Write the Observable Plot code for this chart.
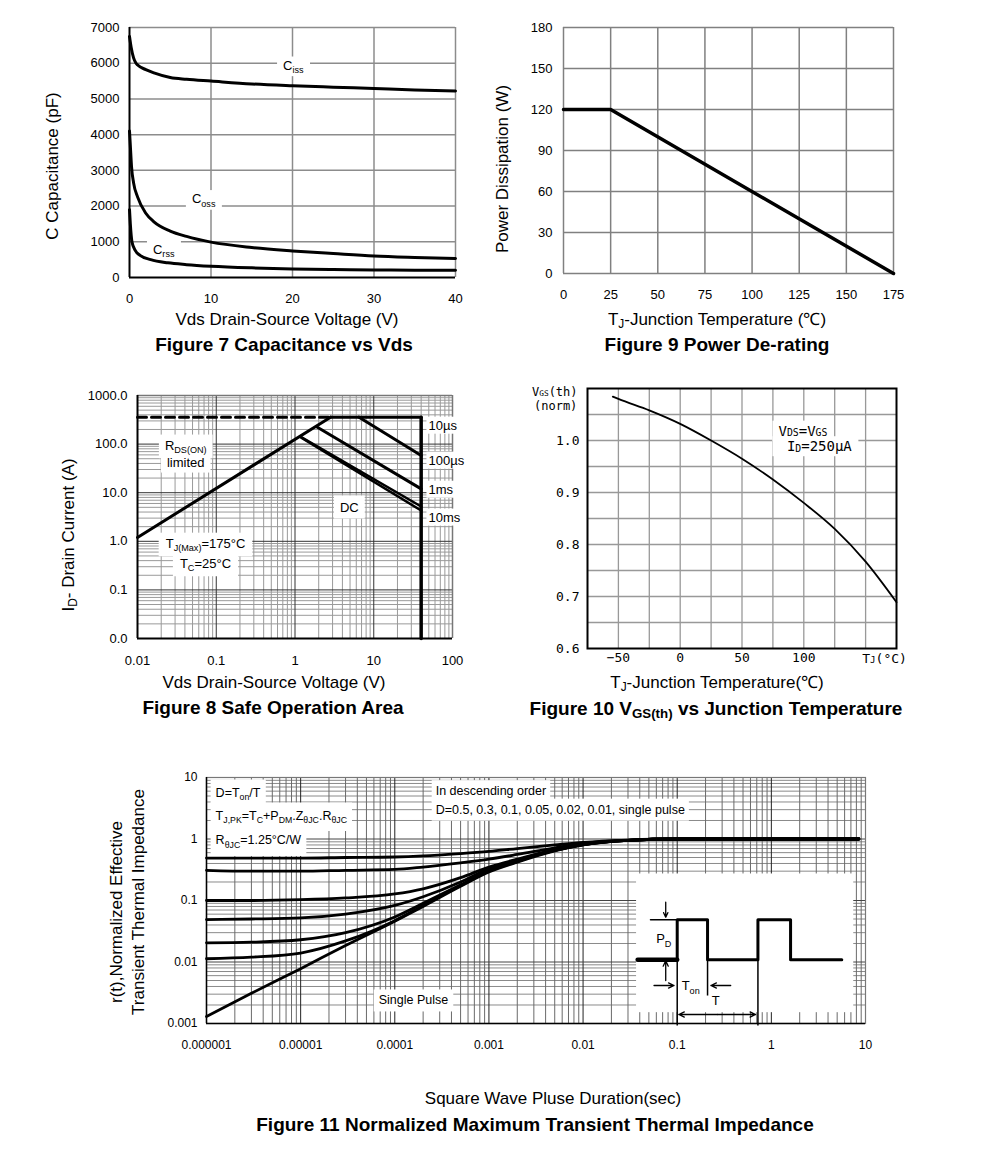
<!DOCTYPE html>
<html><head><meta charset="utf-8">
<script src="https://cdn.jsdelivr.net/npm/d3@7"></script>
<script src="https://cdn.jsdelivr.net/npm/@observablehq/plot@0.6"></script>
<style>
body{margin:0;background:#fff;width:991px;height:1160px;position:relative;overflow:hidden;font-family:"Liberation Sans",Arial,sans-serif;color:#000;}
.holder{position:absolute;}
.t{position:absolute;white-space:nowrap;line-height:1;z-index:3;}
.xt{font-size:17px;transform:translate(-50%,-50%);}
.cap{font-size:19px;font-weight:bold;transform:translate(-50%,-50%);}
.yt{font-size:17px;transform:translate(-50%,-50%) rotate(-90deg);}
.mono{font-family:"DejaVu Sans Mono",monospace;font-size:12px;}
sub{font-size:70%;vertical-align:-0.3em;line-height:0;}
.mono sub{vertical-align:0;font-size:65%;}
</style></head><body>
<div class="t yt" style="left:52px;top:166px">C Capacitance (pF)</div>
<div class="t xt" style="left:287px;top:319px">Vds Drain-Source Voltage (V)</div>
<div class="t cap" style="left:284px;top:344px">Figure 7 Capacitance vs Vds</div>
<div class="t yt" style="left:502px;top:169px">Power Dissipation (W)</div>
<div class="t xt" style="left:717px;top:319px">T<sub>J</sub>-Junction Temperature (℃)</div>
<div class="t cap" style="left:717px;top:344px">Figure 9 Power De-rating</div>
<div class="t yt" style="left:68px;top:535px">I<sub>D</sub>- Drain Current (A)</div>
<div class="t xt" style="left:274px;top:682px">Vds Drain-Source Voltage (V)</div>
<div class="t cap" style="left:273px;top:707px">Figure 8 Safe Operation Area</div>
<div class="t mono" style="left:532px;top:386px">V<sub>GS</sub>(th)</div>
<div class="t mono" style="left:534px;top:400px">(norm)</div>
<div class="t xt" style="left:717px;top:682px">T<sub>J</sub>-Junction Temperature(℃)</div>
<div class="t cap" style="left:716px;top:708px">Figure 10 V<sub>GS(th)</sub> vs Junction Temperature</div>
<div class="t yt" style="left:116px;top:912px">r(t),Normalized Effective</div>
<div class="t yt" style="left:138px;top:902px">Transient Thermal Impedance</div>
<div class="t xt" style="left:553px;top:1098px">Square Wave Pluse Duration(sec)</div>
<div class="t cap" style="left:535px;top:1124px">Figure 11 Normalized Maximum Transient Thermal Impedance</div>
<script>
// ================= DATA =================
// Figure 7: capacitance vs Vds
const vCiss = [0,0.2,0.5,0.8,1,2,3,5,7,10,15,20,25,30,35,40];
const ciss  = [6750,6450,6150,6000,5950,5820,5730,5600,5550,5500,5420,5370,5330,5290,5250,5220];
const vCoss = [0,0.1,0.25,0.5,1,2,3,5,7,10,15,20,25,30,35,40];
const coss  = [4100,3700,3100,2650,2250,1800,1560,1300,1150,990,840,745,670,600,560,530];
const vCrss = [0,0.1,0.3,0.7,1.3,2.6,4.7,7,10,15,20,25,30,35,40];
const crss  = [1900,1500,1000,760,620,500,410,360,316,270,240,225,210,205,200];
const capTicksX = [0,10,20,30,40];
const capTicksY = [0,1000,2000,3000,4000,5000,6000,7000];
const capNames = ["C_{iss}","C_{oss}","C_{rss}"];
const capNameV = [20.1,9.1,4.2];
const capNameC = [5940,2200,780];

// Figure 9: power de-rating
const tj9 = [0,25,175];
const pd9 = [120,120,0];
const tj9Ticks = [0,25,50,75,100,125,150,175];
const pd9Ticks = [0,30,60,90,120,150,180];

// Figure 8: safe operating area
const soaTicksX = [0.01,0.1,1,10,100];
const soaTickLabelsX = ["0.01","0.1","1","10","100"];
const soaTicksY = [0.01,0.1,1,10,100,1000];
const soaTickLabelsY = ["0.0","0.1","1.0","10.0","100.0","1000.0"];
const soaLimitV = [0.01,2.83],  soaLimitI = [1.2,358];
const soaDashV  = [0.01,2.83],  soaDashI  = [358,358];
const soaTopV   = [2.83,40],    soaTopI   = [358,358];
const soa10usV  = [6.5,40],     soa10usI  = [358,58];
const soa100usV = [1.9,40],     soa100usI = [225,12];
const soa1msV   = [1.17,40],    soa1msI   = [143,5.2];
const soa10msV  = [1.2,40],     soa10msI  = [136,4.3];
const soaDcV    = [40,40],      soaDcI    = [358,0.01];
const soaNames  = ["10µs","100µs","1ms","10ms"];
const soaNameV  = [49.5,49.5,49.5,49.5];
const soaNameI  = [241,46,11.6,3.1];
const soaNotes  = ["DC","R_{DS(ON)}","limited","T_{J(Max)}=175°C","T_{C}=25°C"];
const soaNoteV  = [4.9,0.041,0.041,0.073,0.073];
const soaNoteI  = [5.0,94,42,0.9,0.35];

// Figure 10: VGS(th) vs TJ
const tj10  = [-54.5,-50,-25,0,25,50,75,100,125,150,175];
const vth10 = [1.0845,1.080,1.058,1.032,1.000,0.965,0.925,0.880,0.830,0.767,0.689];
const tj10Ticks = [-50,0,50,100];
const vth10Ticks = [0.6,0.7,0.8,0.9,1.0];
const tj10Grid = [-50,-25,0,25,50,75,100,125,150];
const vth10Grid = [0.65,0.7,0.75,0.8,0.85,0.9,0.95,1.0,1.05];
const vthNote = ["V_{DS}=V_{GS}"," I_{D}=250µA"];
const vthNoteT = [79.5,79.5];
const vthNoteV = [1.018,0.988];

// Figure 11: transient thermal impedance
const tPulse = [1e-6,3e-6,1e-5,3e-5,1e-4,2e-4,5e-4,1e-3,2e-3,5e-3,1e-2,3e-2,1e-1,1,8.5];
const zD05   = [0.49,0.49,0.49,0.50,0.51,0.53,0.58,0.63,0.70,0.80,0.88,0.96,1.0,1.0,1.0];
const zD03   = [0.31,0.30,0.30,0.31,0.32,0.35,0.41,0.47,0.56,0.72,0.85,0.95,1.0,1.0,1.0];
const zD01   = [0.100,0.100,0.103,0.110,0.128,0.155,0.235,0.35,0.47,0.67,0.82,0.95,1.0,1.0,1.0];
const zD005  = [0.049,0.050,0.052,0.060,0.083,0.115,0.20,0.33,0.45,0.66,0.81,0.95,1.0,1.0,1.0];
const zD002  = [0.0205,0.021,0.023,0.030,0.054,0.090,0.18,0.31,0.44,0.65,0.81,0.95,1.0,1.0,1.0];
const zD001  = [0.0113,0.012,0.014,0.022,0.047,0.083,0.175,0.30,0.43,0.65,0.80,0.95,1.0,1.0,1.0];
const zSingle= [0.0013,0.0031,0.0078,0.0185,0.046,0.080,0.17,0.29,0.42,0.64,0.80,0.95,1.0,1.0,1.0];
const thTicksX = [1e-6,1e-5,1e-4,1e-3,1e-2,1e-1,1,10];
const thTickLabelsX = ["0.000001","0.00001","0.0001","0.001","0.01","0.1","1","10"];
const thTicksY = [0.001,0.01,0.1,1,10];
const thTickLabelsY = ["0.001","0.01","0.1","1","10"];
const thNotes = ["D=T_{on}/T","T_{J,PK}=T_{C}+P_{DM}.Z_{θJC}.R_{θJC}","R_{θJC}=1.25°C/W","In descending order","D=0.5, 0.3, 0.1, 0.05, 0.02, 0.01, single pulse"];
const thNoteT = [1.25e-6,1.25e-6,1.25e-6,2.72e-4,2.72e-4];
const thNoteZ = [5.7,2.41,0.946,6.0,3.0];
// inset schematic (in the chart's own units)
const insetT = [0.037,7.5], insetZ = [0.0015,0.27];
const waveT = [0.1,0.1,0.21,0.21,0.72,0.72,1.6,1.6,5.6];
const waveZ = [0.0109,0.0485,0.0485,0.0109,0.0109,0.0485,0.0485,0.0109,0.0109];
const waveLeadT = [0.038,0.1], waveLeadZ = [0.0109,0.0109];
const pdTickT = [0.052,0.1], pdTickZ = [0.0485,0.0485];
const guideT = [0.1,0.72,0.21], guideTop = [0.0109,0.0109,0.0109], guideBot = [0.00093,0.00093,0.00285];
const arrowX1 = [0.0755,0.0755,0.0567,0.37,0.266,0.266];
const arrowY1 = [0.094,0.005,0.00415,0.00415,0.0014,0.0014];
const arrowX2 = [0.0755,0.0755,0.0925,0.228,0.104,0.68];
const arrowY2 = [0.0535,0.0105,0.00415,0.00415,0.0014,0.0014];
const insetNames = ["P_{D}","T_{on}","T"];
const insetNameT = [0.072,0.139,0.257];
const insetNameZ = [0.0238,0.0041,0.0023];

// ================= HELPERS =================
const NS = "http://www.w3.org/2000/svg";
const lookup = (ticks, labels) => d => { const k = ticks.findIndex(t => Math.abs(Math.log10(t) - Math.log10(d)) < 1e-6); return k < 0 ? "" : labels[k]; };
function subify(t, shift){
  const s = t.textContent;
  if (!s.includes("_{")) return;
  const fs = parseFloat(getComputedStyle(t).fontSize) || 12;
  while (t.firstChild) t.removeChild(t.firstChild);
  const re = /_\{([^}]*)\}/g; let last = 0, m, shifted = false;
  const add = (txt, sub) => {
    const n = document.createElementNS(NS, "tspan");
    n.textContent = txt;
    if (sub) { n.setAttribute("font-size", (0.7*fs).toFixed(2)); if (!shifted) { n.setAttribute("dy", (shift*fs).toFixed(2)); shifted = true; } }
    else if (shifted) { n.setAttribute("dy", (-shift*fs).toFixed(2)); shifted = false; }
    t.appendChild(n);
  };
  while ((m = re.exec(s))) { if (m.index > last) add(s.slice(last, m.index), false); add(m[1], true); last = re.lastIndex; }
  if (last < s.length) add(s.slice(last), false);
}
function place(svg, left, top, boxMap, shift = 0.28){
  const d = document.createElement("div");
  d.className = "holder"; d.style.left = left + "px"; d.style.top = top + "px";
  d.appendChild(svg); document.body.appendChild(d);
  const texts = [...svg.querySelectorAll("text")];
  const boxed = texts.filter(t => boxMap && boxMap.has(t.textContent)).map(t => [t, boxMap.get(t.textContent)]);
  texts.forEach(t => subify(t, shift));
  boxed.forEach(([t, [px, py]]) => {
    const b = t.getBBox();
    const r = document.createElementNS(NS, "rect");
    r.setAttribute("x", b.x - px); r.setAttribute("y", b.y - py);
    r.setAttribute("width", b.width + 2*px); r.setAttribute("height", b.height + 2*py);
    r.setAttribute("fill", "white"); r.setAttribute("stroke", "none");
    const tr = t.getAttribute("transform"); if (tr) r.setAttribute("transform", tr);
    t.parentNode.insertBefore(r, t.parentNode.firstChild);
  });
}
const baseStyle = (ff, fs) => ({background:"transparent", color:"#000", fontFamily:ff, fontSize:fs, overflow:"visible"});
const SANS = "Liberation Sans, Arial, sans-serif";

// ================= FIGURE 7 =================
{
  const svg = Plot.plot({
    width:430, height:300, marginLeft:89, marginRight:15, marginTop:12, marginBottom:38,
    style: baseStyle(SANS, "13px"),
    x:{domain:[0,40], ticks:capTicksX, tickFormat:d3.format("d"), tickSize:0, tickPadding:16, label:null},
    y:{domain:[0,7000], ticks:capTicksY, tickFormat:d3.format("d"), tickSize:0, tickPadding:10, label:null},
    marks:[
      Plot.ruleX(capTicksX.slice(1,4), {stroke:"#8c8c8c", strokeWidth:1.5}),
      Plot.ruleY(capTicksY.slice(1,7), {stroke:"#8c8c8c", strokeWidth:1.5}),
      Plot.ruleY([7000], {stroke:"#8c8c8c", strokeWidth:1.5}),
      Plot.ruleX([40], {stroke:"#8c8c8c", strokeWidth:1.5}),
      Plot.text(capNames, {x:capNameV, y:capNameC, text:capNames, fontSize:13}),
      Plot.ruleX([0], {stroke:"#000", strokeWidth:2}),
      Plot.ruleY([0], {stroke:"#000", strokeWidth:2}),
      Plot.line(ciss, {x:vCiss, y:ciss, stroke:"#000", strokeWidth:3, curve:"monotone-x"}),
      Plot.line(coss, {x:vCoss, y:coss, stroke:"#000", strokeWidth:3, curve:"monotone-x"}),
      Plot.line(crss, {x:vCrss, y:crss, stroke:"#000", strokeWidth:3, curve:"monotone-x"})
    ]
  });
  place(svg, 40, 15, new Map(capNames.map(n => [n, [6, 1]])));
}

// ================= FIGURE 9 =================
{
  const svg = Plot.plot({
    width:420, height:300, marginLeft:73, marginRight:17, marginTop:12, marginBottom:42,
    style: baseStyle(SANS, "13px"),
    x:{domain:[0,175], ticks:tj9Ticks, tickFormat:d3.format("d"), tickSize:0, tickPadding:16, label:null},
    y:{domain:[0,180], ticks:pd9Ticks, tickFormat:d3.format("d"), tickSize:0, tickPadding:11, label:null},
    marks:[
      Plot.ruleX(tj9Ticks, {stroke:"#808080", strokeWidth:1.5}),
      Plot.ruleY(pd9Ticks, {stroke:"#808080", strokeWidth:1.5}),
      Plot.line(pd9, {x:tj9, y:pd9, stroke:"#000", strokeWidth:3.5})
    ]
  });
  place(svg, 490, 15);
}

// ================= FIGURE 8 =================
{
  const decX = [0.01,0.1,1,10], decY = [0.01,0.1,1,10,100];
  const minorX = decX.flatMap(d => [2,3,4,5,6,7,8,9].map(k => k*d));
  const minorY = decY.flatMap(d => [2,3,4,5,6,7,8,9].map(k => k*d));
  const svg = Plot.plot({
    width:440, height:300, marginLeft:97, marginRight:28, marginTop:15, marginBottom:42,
    style: baseStyle(SANS, "13px"),
    x:{type:"log", domain:[0.01,100], ticks:soaTicksX, tickFormat:lookup(soaTicksX, soaTickLabelsX), tickSize:0, tickPadding:17, label:null},
    y:{type:"log", domain:[0.01,1000], ticks:soaTicksY, tickFormat:lookup(soaTicksY, soaTickLabelsY), tickSize:0, tickPadding:10, label:null},
    marks:[
      Plot.ruleX(minorX, {stroke:"#9a9a9a", strokeWidth:1}),
      Plot.ruleY(minorY, {stroke:"#9a9a9a", strokeWidth:1}),
      Plot.ruleX([0.1,1,10], {stroke:"#333", strokeWidth:1}),
      Plot.ruleY([0.1,1,10,100], {stroke:"#333", strokeWidth:1}),
      Plot.ruleY([1000], {stroke:"#777", strokeWidth:1.5}),
      Plot.ruleX([100], {stroke:"#777", strokeWidth:1.5}),
      Plot.ruleX([0.01], {stroke:"#000", strokeWidth:2}),
      Plot.ruleY([0.01], {stroke:"#000", strokeWidth:2}),
      Plot.text(soaNames, {x:soaNameV, y:soaNameI, text:soaNames, textAnchor:"start", fontSize:13}),
      Plot.text(soaNotes, {x:soaNoteV, y:soaNoteI, text:soaNotes, textAnchor:(d,i)=> i===0 ? "middle" : "start", fontSize:13}),
      Plot.line(soaDashI, {x:soaDashV, y:soaDashI, stroke:"#000", strokeWidth:3, strokeDasharray:"9,5"}),
      Plot.line(soaLimitI, {x:soaLimitV, y:soaLimitI, stroke:"#000", strokeWidth:3}),
      Plot.line(soaTopI, {x:soaTopV, y:soaTopI, stroke:"#000", strokeWidth:3}),
      Plot.line(soa10usI, {x:soa10usV, y:soa10usI, stroke:"#000", strokeWidth:3}),
      Plot.line(soa100usI, {x:soa100usV, y:soa100usI, stroke:"#000", strokeWidth:3}),
      Plot.line(soa1msI, {x:soa1msV, y:soa1msI, stroke:"#000", strokeWidth:2.5}),
      Plot.line(soa10msI, {x:soa10msV, y:soa10msI, stroke:"#000", strokeWidth:2.5}),
      Plot.line(soaDcI, {x:soaDcV, y:soaDcI, stroke:"#000", strokeWidth:3.5})
    ]
  });
  const bm = new Map([...soaNames.map(n => [n, [2, 1]]), ["DC",[6,4]], ["R_{DS(ON)}",[6,3]], ["limited",[6,3]], ["T_{J(Max)}=175°C",[7,3]], ["T_{C}=25°C",[7,3]]]);
  place(svg, 40, 380, bm);
}

// ================= FIGURE 10 =================
{
  const svg = Plot.plot({
    width:410, height:300, marginLeft:77, marginRight:24, marginTop:8, marginBottom:32,
    style: baseStyle("DejaVu Sans Mono, monospace", "13px"),
    x:{domain:[-75,175], ticks:tj10Ticks, tickFormat:d => d < 0 ? "−" + Math.abs(d) : String(d), tickSize:0, tickPadding:4, label:null},
    y:{domain:[0.6,1.1], ticks:vth10Ticks, tickFormat:d3.format(".1f"), tickSize:0, tickPadding:8, label:null},
    marks:[
      Plot.ruleX(tj10Grid, {stroke:"#999", strokeWidth:1.3}),
      Plot.ruleY(vth10Grid, {stroke:"#999", strokeWidth:1.3}),
      Plot.frame({stroke:"#000", strokeWidth:2}),
      Plot.text(["T_{J}(°C)"], {x:[150], y:[0.6], text:["T_{J}(°C)"], dx:19, dy:10, fontSize:13}),
      Plot.text(vthNote, {x:vthNoteT, y:vthNoteV, text:vthNote, textAnchor:"start", fontSize:14}),
      Plot.line(vth10, {x:tj10, y:vth10, stroke:"#000", strokeWidth:1.8, curve:"monotone-x"})
    ]
  });
  const bm = new Map(vthNote.map(n => [n, [6, 2]]));
  place(svg, 510, 380, bm, 0.05);
}

// ================= FIGURE 11 =================
{
  const decX = [1e-6,1e-5,1e-4,1e-3,1e-2,1e-1,1];
  const decY = [0.001,0.01,0.1,1];
  const minorX = decX.flatMap(d => [2,3,4,5,6,7,8,9].map(k => k*d));
  const minorY = decY.flatMap(d => [2,3,4,5,6,7,8,9].map(k => k*d));
  const series = [["0.5",zD05],["0.3",zD03],["0.1",zD01],["0.05",zD005],["0.02",zD002],["0.01",zD001],["single",zSingle]];
  const rows = series.flatMap(([k, z]) => tPulse.map((t, i) => ({d:k, t, z:z[i]})));
  const svg = Plot.plot({
    width:790, height:300, marginLeft:106, marginRight:25, marginTop:12, marginBottom:42,
    style: baseStyle(SANS, "12px"),
    x:{type:"log", domain:[1e-6,10], ticks:thTicksX, tickFormat:lookup(thTicksX, thTickLabelsX), tickSize:0, tickPadding:17, label:null},
    y:{type:"log", domain:[0.001,10], ticks:thTicksY, tickFormat:lookup(thTicksY, thTickLabelsY), tickSize:0, tickPadding:9, label:null},
    marks:[
      Plot.ruleY(minorY, {stroke:"#8a8a8a", strokeWidth:1}),
      Plot.ruleX(minorX, {stroke:"#6a6a6a", strokeWidth:1}),
      Plot.ruleX(decX.slice(1), {stroke:"#222", strokeWidth:1}),
      Plot.ruleY(decY.slice(1), {stroke:"#444", strokeWidth:1}),
      Plot.rect([0], {x1:[insetT[0]], x2:[insetT[1]], y1:[insetZ[0]], y2:[insetZ[1]], fill:"white"}),
      Plot.frame({stroke:"#777", strokeWidth:1.2}),
      Plot.ruleX([1e-6], {stroke:"#000", strokeWidth:1.5}),
      Plot.ruleY([0.001], {stroke:"#000", strokeWidth:1.5}),
      Plot.text(thNotes, {x:thNoteT, y:thNoteZ, text:thNotes, textAnchor:"start", fontSize:12.5}),
      Plot.text(["Single Pulse"], {x:[1.58e-4], y:[0.00237], text:["Single Pulse"], fontSize:12.5}),
      Plot.line(rows, {x:"t", y:"z", z:"d", stroke:"#000", strokeWidth:2.8, curve:"monotone-x"}),
      // inset schematic
      Plot.line(waveZ, {x:waveT, y:waveZ, stroke:"#000", strokeWidth:3}),
      Plot.line(waveLeadZ, {x:waveLeadT, y:waveLeadZ, stroke:"#000", strokeWidth:4.5}),
      Plot.line(pdTickZ, {x:pdTickT, y:pdTickZ, stroke:"#000", strokeWidth:1.5}),
      Plot.link(guideT, {x1:guideT, x2:guideT, y1:guideTop, y2:guideBot, stroke:"#000", strokeWidth:1.5}),
      Plot.arrow(arrowX1, {x1:arrowX1, y1:arrowY1, x2:arrowX2, y2:arrowY2, stroke:"#000", strokeWidth:1.3, headLength:7, headAngle:50}),
      Plot.text(insetNames, {x:insetNameT, y:insetNameZ, text:insetNames, fontSize:13})
    ]
  });
  const bm = new Map([...thNotes.slice(0,3).map(n => [n, [5, 6]]), ...thNotes.slice(3).map(n => [n, [4, 4]]), ["Single Pulse",[5,4]]]);
  place(svg, 100, 765, bm);
}
</script>
</body></html>
